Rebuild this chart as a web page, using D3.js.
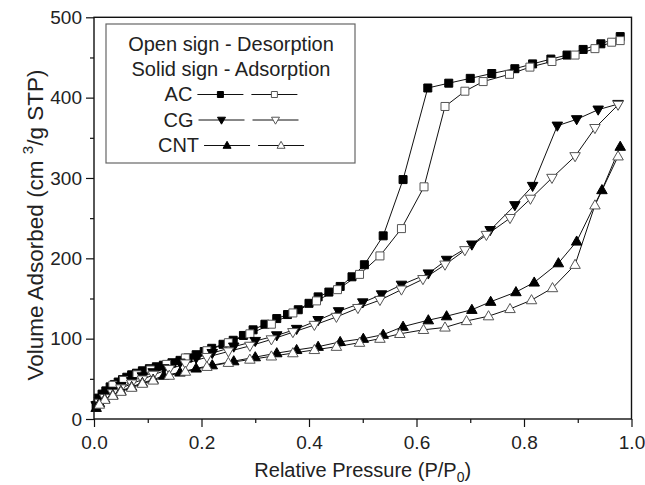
<!DOCTYPE html>
<html>
<head>
<meta charset="utf-8">
<script src="https://cdn.jsdelivr.net/npm/d3@7"></script>
<style>
body{margin:0;background:#fff;}
text{font-family:Arial,"Liberation Sans",sans-serif;fill:#222;}
</style>
</head>
<body>
<svg id="chart" width="645" height="485"></svg>
<script>
// values, [P/P0, volume]
var acAds = [[0.004,17],[0.008,26],[0.015,31],[0.022,35],[0.03,40],[0.038,43],[0.045,46],[0.053,49],[0.061,52],[0.07,55],[0.079,57],[0.09,60],[0.103,62.6],[0.116,65],[0.129,67],[0.145,70],[0.16,73],[0.175,76],[0.19,80],[0.205,84],[0.219,88],[0.24,93],[0.259,98],[0.278,104],[0.296,111],[0.318,118],[0.34,125],[0.36,130],[0.38,136],[0.4,144],[0.417,152],[0.437,158],[0.458,165],[0.48,177],[0.503,192],[0.538,228],[0.575,298],[0.621,412],[0.66,418],[0.70,424],[0.74,430],[0.783,436],[0.816,442],[0.85,448],[0.88,453],[0.91,460],[0.943,467],[0.979,476]];
var acDes = [[0.979,471],[0.963,469],[0.932,461],[0.895,453],[0.852,445],[0.811,438],[0.773,429],[0.724,420],[0.69,408],[0.653,389],[0.614,289],[0.572,237],[0.532,203],[0.494,180],[0.453,161],[0.414,147],[0.37,132],[0.33,118],[0.29,106],[0.25,95],[0.21,85],[0.17,76],[0.135,68],[0.105,61],[0.08,55],[0.055,48],[0.035,42]];
var cgAds = [[0.004,17],[0.01,22],[0.02,28],[0.035,35],[0.05,41],[0.07,47],[0.09,53],[0.11,58],[0.13,63],[0.16,70],[0.19,76],[0.22,82],[0.26,90],[0.3,97],[0.34,104],[0.377,112],[0.417,123],[0.455,134],[0.5,145],[0.535,155],[0.572,167],[0.622,181],[0.656,198],[0.703,217],[0.737,235],[0.783,266],[0.816,290],[0.862,365],[0.898,373],[0.938,385],[0.975,392]];
var cgDes = [[0.975,391],[0.932,362],[0.895,327],[0.852,300],[0.812,274],[0.774,250],[0.73,229],[0.69,210],[0.653,192],[0.612,174],[0.572,161],[0.532,148],[0.491,138],[0.451,127],[0.41,117],[0.37,108],[0.33,99],[0.29,91],[0.25,84],[0.21,77],[0.17,69],[0.14,62],[0.11,55],[0.09,49],[0.07,44],[0.05,38],[0.035,32],[0.02,26],[0.01,20]];
var cntAds = [[0.004,14],[0.01,20],[0.02,25],[0.035,30],[0.05,35],[0.07,40],[0.09,45],[0.11,49],[0.13,54],[0.16,58],[0.19,63],[0.22,67],[0.26,72],[0.3,77],[0.34,82],[0.377,86],[0.417,90],[0.458,96],[0.501,100],[0.538,105],[0.575,115],[0.622,123],[0.656,128],[0.703,136],[0.738,146],[0.785,158],[0.819,170],[0.864,194],[0.898,221],[0.945,285],[0.979,339]];
var cntDes = [[0.975,327],[0.932,266],[0.895,192],[0.853,163],[0.814,148],[0.774,137],[0.734,128],[0.693,122],[0.653,114],[0.613,111],[0.569,106],[0.532,100],[0.494,95],[0.451,90],[0.41,86],[0.37,82],[0.33,78],[0.29,74],[0.25,70],[0.21,65],[0.17,59],[0.14,54],[0.11,48],[0.09,44],[0.07,39],[0.05,34],[0.035,29],[0.02,24],[0.01,18]];

var xMajor = [0, 0.2, 0.4, 0.6, 0.8, 1.0];
var xMinor = [0.1, 0.3, 0.5, 0.7, 0.9];
var yMajor = [0, 100, 200, 300, 400, 500];
var yMinor = [50, 150, 250, 350, 450];
var legendTitles = ["Open sign - Desorption", "Solid sign - Adsorption"];
var legendNames = ["AC", "CG", "CNT"];

var svg = d3.select("#chart");
var pL = 94, pR = 631.5, pT = 17.3, pB = 419;

var x = d3.scaleLinear().domain([0, 1]).range([pL, pR]);
var y = d3.scaleLinear().domain([0, 500]).range([pB, pT]);

// marker shapes
function shape(kind, s){
    if(kind == "sq") return "M"+(-s/2)+","+(-s/2)+"h"+s+"v"+s+"h"+(-s)+"Z";
    var h = s*0.87;
    if(kind == "up") return "M0,"+(-h*0.6)+"L"+(s/2)+","+(h*0.4)+"L"+(-s/2)+","+(h*0.4)+"Z";
    return "M0,"+(h*0.6)+"L"+(s/2)+","+(-h*0.4)+"L"+(-s/2)+","+(-h*0.4)+"Z";
}

var series = [
    {data: acAds, kind: "sq", open: false},
    {data: acDes, kind: "sq", open: true},
    {data: cgAds, kind: "down", open: false},
    {data: cgDes, kind: "down", open: true},
    {data: cntAds, kind: "up", open: false},
    {data: cntDes, kind: "up", open: true}
];

var line = d3.line().x(function(d){return x(d[0]);}).y(function(d){return y(d[1]);});

series.forEach(function(s){
    svg.append("path")
        .attr("d", line(s.data))
        .attr("fill", "none")
        .attr("stroke", "#111")
        .attr("stroke-width", 1);
});
series.forEach(function(s){
    var size = s.kind == "sq" ? 8 : 10.5;
    svg.append("g").selectAll("path")
        .data(s.data)
        .enter().append("path")
        .attr("transform", function(d){return "translate("+x(d[0])+","+y(d[1])+")";})
        .attr("d", shape(s.kind, size))
        .attr("fill", s.open ? "#fff" : "#000")
        .attr("stroke", s.open ? "#555" : "#000")
        .attr("stroke-width", 1);
});

// axes
svg.append("g").attr("transform", "translate(0,"+pB+")")
    .call(d3.axisBottom(x).tickValues(xMajor).tickSize(8).tickPadding(9).tickFormat(d3.format(".1f")));
svg.append("g").attr("transform", "translate(0,"+pB+")")
    .call(d3.axisBottom(x).tickValues(xMinor).tickSize(4).tickFormat(""));
svg.append("g").attr("transform", "translate("+pL+",0)")
    .call(d3.axisLeft(y).tickValues(yMajor).tickSize(8).tickPadding(4));
svg.append("g").attr("transform", "translate("+pL+",0)")
    .call(d3.axisLeft(y).tickValues(yMinor).tickSize(4).tickFormat(""));

svg.selectAll(".domain").remove();
svg.selectAll(".tick line").attr("stroke", "#111").attr("stroke-width", 1.2);
svg.selectAll(".tick text").attr("font-size", 19).attr("fill", "#222")
    .attr("font-family", "Arial, 'Liberation Sans', sans-serif");

svg.append("rect")
    .attr("x", pL).attr("y", pT)
    .attr("width", pR-pL).attr("height", pB-pT)
    .attr("fill", "none").attr("stroke", "#111").attr("stroke-width", 1.4);

// axis titles
var xt = svg.append("text").attr("x", (pL+pR)/2).attr("y", 477)
    .attr("text-anchor", "middle").attr("font-size", 20);
xt.append("tspan").text("Relative Pressure (P/P");
xt.append("tspan").attr("font-size", 14).attr("dy", 5).text("0");
xt.append("tspan").attr("dy", -5).text(")");

var yt = svg.append("text")
    .attr("transform", "translate(43,225) rotate(-90)")
    .attr("text-anchor", "middle").attr("font-size", 22.5);
yt.append("tspan").text("Volume Adsorbed (cm ");
yt.append("tspan").attr("font-size", 15).attr("dy", -10).text("3");
yt.append("tspan").attr("dy", 10).text("/g STP)");

// legend
var lg = svg.append("g");
lg.append("rect").attr("x", 106).attr("y", 24).attr("width", 249).attr("height", 139)
    .attr("fill", "#fff").attr("stroke", "#666").attr("stroke-width", 1.2);
var lcx = 231;
legendTitles.forEach(function(t, i){
    lg.append("text").attr("x", lcx).attr("y", 51 + i*25)
        .attr("text-anchor", "middle").attr("font-size", 20).text(t);
});
var legendKinds = ["sq", "down", "up"];
legendNames.forEach(function(n, i){
    var row = lg.append("g");
    var ty = 101 + i*25.5;
    var t = row.append("text").attr("y", ty).attr("font-size", 20).text(n);
    var tw = t.node().getComputedTextLength();
    var total = tw + 5 + 100;
    var x0 = lcx - total/2;
    t.attr("x", x0);
    var sx = x0 + tw + 5, my = ty - 6.5;
    var ms = legendKinds[i] == "sq" ? 6 : 8;
    [[0,46],[54,100]].forEach(function(seg){
        row.append("line").attr("x1", sx+seg[0]).attr("x2", sx+seg[1])
            .attr("y1", my).attr("y2", my).attr("stroke", "#111").attr("stroke-width", 1);
    });
    row.append("path").attr("transform", "translate("+(sx+23)+","+my+")")
        .attr("d", shape(legendKinds[i], ms)).attr("fill", "#000").attr("stroke", "#000");
    row.append("path").attr("transform", "translate("+(sx+77)+","+my+")")
        .attr("d", shape(legendKinds[i], ms)).attr("fill", "#fff").attr("stroke", "#555");
});
</script>
</body>
</html>
